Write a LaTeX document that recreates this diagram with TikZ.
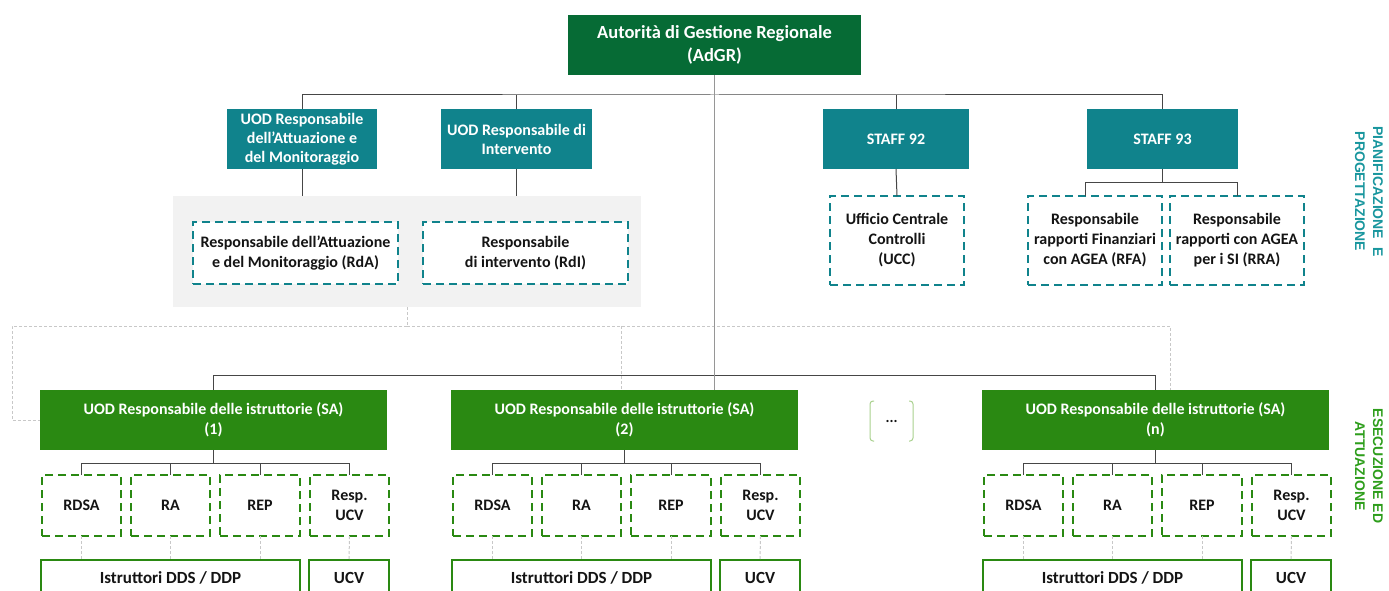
\documentclass[tikz,border=0pt]{standalone}
\usepackage{fontspec}
\setmainfont{Carlito}
\newfontfamily\sidefont{Liberation Sans}
\definecolor{adgrc}{RGB}{6,107,53}
\definecolor{tealc}{RGB}{16,131,140}
\definecolor{sagreen}{RGB}{42,137,18}
\definecolor{bggray}{RGB}{242,242,242}
\definecolor{connc}{RGB}{70,70,70}
\definecolor{trunkc}{RGB}{150,150,150}
\definecolor{dotc}{RGB}{200,200,200}
\definecolor{brackc}{RGB}{169,209,142}
\definecolor{sideteal}{RGB}{24,150,158}
\definecolor{sidegreen}{RGB}{46,158,28}
\definecolor{txt}{RGB}{20,20,20}
\tikzset{
  every node/.style={inner sep=0pt, outer sep=0pt, align=center},
  adgrbox/.style={fill=adgrc, text=white, font=\bfseries\fontsize{18.5}{23}\selectfont, minimum width=293, minimum height=60},
  tealbox/.style={fill=tealc, text=white, font=\bfseries\fontsize{16}{19}\selectfont, minimum height=60},
  tdash/.style={draw=tealc, fill=white, line width=2pt, dash pattern=on 8pt off 5pt, text=txt, font=\bfseries\fontsize{16}{20}\selectfont},
  sabox/.style={fill=sagreen, text=white, font=\bfseries\fontsize{16}{19.5}\selectfont, minimum width=347, minimum height=60},
  gdash/.style={draw=sagreen, fill=white, line width=2pt, dash pattern=on 8pt off 5pt, text=txt, font=\bfseries\fontsize{16}{19.5}\selectfont, minimum width=79, minimum height=61},
  gsolid/.style={draw=sagreen, fill=white, line width=2.5pt, text=txt, font=\bfseries\fontsize{17}{20}\selectfont, minimum height=36},
  conn/.style={draw=connc, line width=1pt},
  trunk/.style={draw=trunkc, line width=1.5pt},
  dotl/.style={draw=dotc, line width=1pt, dash pattern=on 3pt off 2pt},
}
\begin{document}
\begin{tikzpicture}[x=1pt, y=-1pt]
\useasboundingbox (0,0) rectangle (1389,591);
\clip (0,0) rectangle (1389,591);
\fill[white] (0,0) rectangle (1389,591);

% background group
\node[fill=bggray, minimum width=468, minimum height=111] (bg) at (407,251.5) {};

% dotted connectors
\coordinate (dj) at (407,326);
\coordinate (dl) at (12,326);
\coordinate (dr) at (1170,326);
\coordinate (d2) at (621,326);

% top
\node[adgrbox] (adgr) at (714.5,45) {Autorità di Gestione Regionale\\(AdGR)};
\node[tealbox, minimum width=150] (uodA) at (302,139) {UOD Responsabile\\dell’Attuazione e\\del Monitoraggio};
\node[tealbox, minimum width=151] (uodI) at (516.5,139) {UOD Responsabile di\\Intervento};
\node[tealbox, minimum width=146] (st92) at (896,139) {STAFF 92};
\node[tealbox, minimum width=151] (st93) at (1162.5,139) {STAFF 93};

\node[tdash, minimum width=205, minimum height=62] (rda) at (295.5,253) {Responsabile dell’Attuazione\\e del Monitoraggio (RdA)};
\node[tdash, minimum width=205, minimum height=62] (rdi) at (525.5,253) {Responsabile\\di intervento (RdI)};
\node[tdash, minimum width=134, minimum height=89] (ucc) at (897,240.5) {Ufficio Centrale\\Controlli\\(UCC)};
\node[tdash, minimum width=134, minimum height=89] (rfa) at (1095,240.5) {Responsabile\\rapporti Finanziari\\con AGEA (RFA)};
\node[tdash, minimum width=134, minimum height=89] (rra) at (1237,240.5) {Responsabile\\rapporti con AGEA\\per i SI (RRA)};

\coordinate (tb) at (714.5,95);
\draw[conn] (uodA.north) |- (tb) -| (st93.north);
\draw[conn] (uodI.north) -- (uodI.north |- tb);
\draw[conn] (st92.north) -- (st92.north |- tb);
\draw[conn] (uodA.south) -- (uodA.south |- bg.north);
\draw[conn] (uodI.south) -- (uodI.south |- bg.north);
\draw[conn] (st92.south) -- (ucc.north);
\draw[conn] (st93.south) -- ++(0,13) coordinate (s93) -| ([xshift=-10pt]rfa.north);
\draw[conn] (s93) -| (rra.north);

% SA groups
\foreach \i/\dx in {1/0,2/411,n/942}{
  \node[sabox] (sa\i) at (213.5+\dx,420) {UOD Responsabile delle istruttorie (SA)\\(\i)};
  \node[gdash] (rdsa\i) at (81.5+\dx,505.5) {RDSA};
  \node[gdash] (ra\i) at (170.5+\dx,505.5) {RA};
  \node[gdash, minimum width=80] (rep\i) at (260+\dx,505.5) {REP};
  \node[gdash] (rucv\i) at (349.5+\dx,505.5) {Resp.\\UCV};
  \node[gsolid, minimum width=259] (istr\i) at (170.5+\dx,578) {Istruttori DDS / DDP};
  \node[gsolid, minimum width=80] (ucv\i) at (349+\dx,578) {UCV};
  \draw[conn] (sa\i.south) -- ++(0,13);
  \draw[conn] (rdsa\i.north) -- ++(0,-12) -| (rucv\i.north);
  \draw[conn] (ra\i.north) -- ++(0,-12);
  \draw[conn] (rep\i.north) -- ++(0,-12);
  \draw[dotl] (rdsa\i.south) -- (rdsa\i.south |- istr\i.north);
  \draw[dotl] (ra\i.south) -- (ra\i.south |- istr\i.north);
  \draw[dotl] (rep\i.south) -- (rep\i.south |- istr\i.north);
  \draw[dotl] (rucv\i.south) -- (ucv\i.north);
}

% dotted organisational links
\draw[dotl] (bg.south) -- (dj);
\draw[dotl] (dj) -- (dl) |- (sa1.west);
\draw[dotl] (dj) -- (dr) -- (dr |- san.north);
\draw[dotl] (d2) -- (d2 |- sa2.north);

% main connectors
\draw[conn] (sa1.north) -- ++(0,-15) coordinate (bl) -| (san.north);
\draw[trunk] (adgr.south) -- (adgr.south |- sa2.north);

% dots placeholder
\node[minimum width=43, minimum height=40, font=\bfseries\fontsize{15}{16}\selectfont, text=txt] (dots) at (891.5,421) {...};
\draw[draw=brackc, line width=1pt, rounded corners=3pt] ([xshift=4pt]dots.north west) -- (dots.north west) -- (dots.south west) -- ([xshift=4pt]dots.south west);
\draw[draw=brackc, line width=1pt, rounded corners=3pt] ([xshift=-4pt]dots.north east) -- (dots.north east) -- (dots.south east) -- ([xshift=-4pt]dots.south east);

% side labels
\node[rotate=-90, text=sideteal, font=\sidefont\bfseries\fontsize{14}{18}\selectfont] (side1) at (1369,191.5) {PIANIFICAZIONE\ \ E\\PROGETTAZIONE};
\node[rotate=-90, text=sidegreen, font=\sidefont\bfseries\fontsize{14}{18}\selectfont] (side2) at (1369,466) {ESECUZIONE ED\\ATTUAZIONE};
\end{tikzpicture}
\end{document}
